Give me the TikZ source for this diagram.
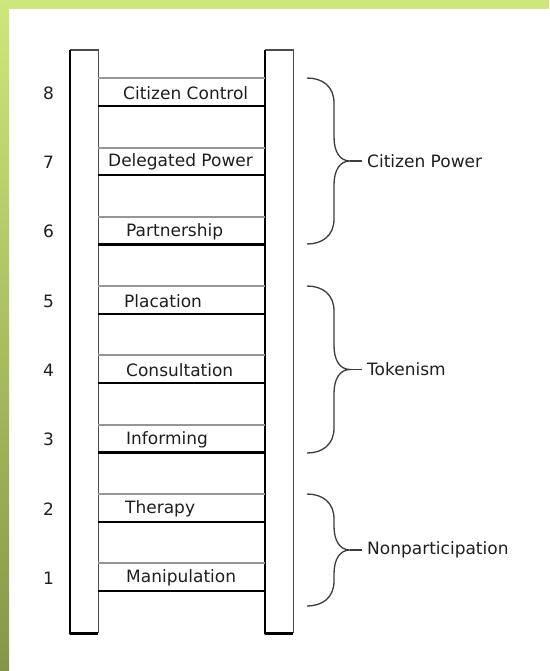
\documentclass[tikz,border=0pt]{standalone}
\usepackage{fontspec}
\setmainfont{DejaVu Sans}
\usepackage{tikz}
\usetikzlibrary{positioning}
\definecolor{bordertop}{RGB}{206,231,122}
\definecolor{borderbottom}{RGB}{134,150,72}
\definecolor{runggray}{RGB}{150,150,150}
\definecolor{bracegray}{RGB}{60,60,60}
\tikzstyle{rung text}=[anchor=west, inner sep=0pt
,font=\fontsize{17}{20}\selectfont
,text=black!88
]
\tikzstyle{rung number} = [rung text, anchor=center]
\tikzstyle{group text} = [rung text]
\tikzstyle{rail light} = [draw, line width=1.2pt, black!70]
\tikzstyle{rail dark} = [draw, line width=2.4pt, black, line join=round]
\tikzstyle{rung upper} = [draw, line width=1.9pt, runggray]
\tikzstyle{rung lower} = [draw, line width=2.2pt, black]
\tikzstyle{brace line} = [draw, line width=1.3pt, bracegray]

\begin{document}
\begin{tikzpicture}[x=1pt, y=-1pt]
    % Page and green frame
    \useasboundingbox (0,0) rectangle (549,671);
    \fill[white] (0,0) rectangle (549,671);
    \fill[bordertop] (0,0) rectangle (549,9);
    \shade[top color=bordertop, bottom color=borderbottom] (0,0) rectangle (9,671);

    % First we draw the two rails
    \foreach \x/\name in {70/left rail, 265/right rail} {
        \node[fill=white, inner sep=0pt, minimum width=28pt, minimum height=583pt, anchor=north west] (\name) at (\x,50) {};
        \path[rail light] (\name.north west) -- (\name.north east) -- (\name.south east);
        \path[rail dark] (\name.north west) -- (\name.south west) -- (\name.south east);
    }

    % Then the rungs, their texts and numbers
    \foreach \n/\tx/\name in {1/126/Manipulation, 2/125/Therapy, 3/126/Informing, 4/126/Consultation, 5/124/Placation, 6/126/Partnership, 7/108/Delegated Power, 8/123/Citizen Control} {
        \pgfmathsetmacro{\ytop}{563.3-(\n-1)*69.29}
        \path[rung upper] (left rail.east |- 0,\ytop) -- (right rail.west |- 0,\ytop);
        \path[rung lower] (left rail.east |- 0,\ytop+27.7) -- (right rail.west |- 0,\ytop+27.7);
        \node[rung text] (rung\n) at (\tx,\ytop+14.6) {\name};
        \node[rung number] (num\n) at (48.5,\ytop+14.8) {\n};
    }

    % Braces that join the rungs into groups
    \foreach \t/\b/\name/\txt in {78/244/power/Citizen Power, 286/453/token/Tokenism, 494/606/nonpart/Nonparticipation} {
        \pgfmathsetmacro{\m}{(\t+\b)/2}
        \node[group text] (\name) at (367,\m) {\txt};
        \coordinate (\name top) at (307,\t);
        \coordinate (\name bottom) at (307,\b);
        \coordinate (\name tip) at (350,\m);
        \path[brace line] (\name top) .. controls (322,\t) and (334,\t+8) .. (334,\t+25) -- (334,\m-24)
            .. controls (334,\m-9) and (340,\m) .. (\name tip)
            .. controls (340,\m) and (334,\m+9) .. (334,\m+24) -- (334,\b-25)
            .. controls (334,\b-8) and (322,\b) .. (\name bottom);
        \path[brace line] (\name tip) -- ([xshift=-5pt]\name.west);
    }
\end{tikzpicture}
\end{document}
